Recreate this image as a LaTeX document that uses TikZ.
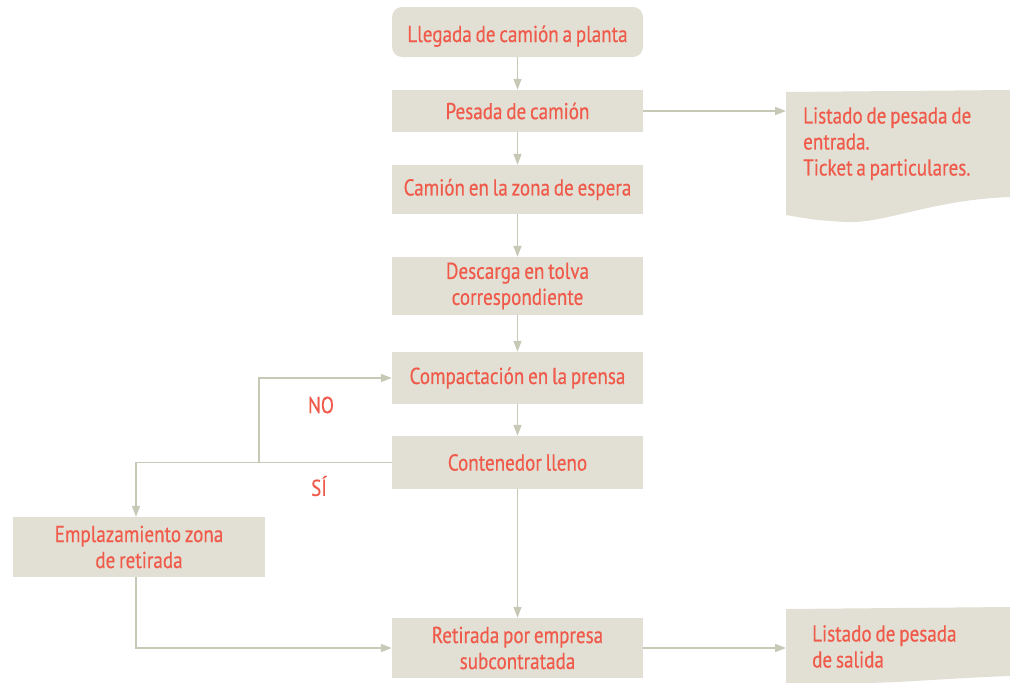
\documentclass[tikz,border=0pt]{standalone}
\usepackage{fontspec}
\setmainfont[FakeStretch=0.83,WordSpace=0.75,FakeBold=0.4]{PT Sans}
\usetikzlibrary{arrows.meta}
\definecolor{boxfill}{RGB}{226,224,212}
\definecolor{txt}{RGB}{240,90,74}
\definecolor{ln}{RGB}{200,200,182}
\begin{document}
\fontsize{23}{26}\selectfont
\begin{tikzpicture}[x=1pt,y=-1pt,
  box/.style={fill=boxfill, draw=none, minimum width=251pt, align=center, inner sep=0pt, text=txt, font=\fontsize{23}{26}\selectfont},
  doctext/.style={anchor=north west, align=left, inner sep=0pt, text=txt, font=\fontsize{23}{26}\selectfont},
  lbl/.style={inner sep=0pt, text=txt, font=\fontsize{23}{26}\selectfont},
  conn/.style={draw=ln, line width=1.6pt, -{Triangle[length=11pt,width=8pt]}}]
\useasboundingbox (0,0) rectangle (1010,683);
% documents
\fill[boxfill] (786,92) -- (1010,90) -- (1010,197) .. controls (930,200) and (885,224) .. (845,222) .. controls (815,220) .. (786,215) -- cycle;
\fill[boxfill] (786,609) -- (1010,607) -- (1010,676) .. controls (950,678) and (900,683) .. (860,683) -- (786,683) -- cycle;
\node[doctext] (d1) at (803,107) {Listado de pesada de\\entrada.\\Ticket a particulares.};
\node[doctext] (d2) at (812,625) {Listado de pesada\\de salida};
\coordinate (d1in) at (786,111);
\coordinate (d2in) at (786,648);
% boxes
\node[box, minimum height=50pt, rounded corners=10pt, text height=25pt, text depth=5pt] (n1) at (517.5,32) {Llegada de camión a planta};
\node[box, minimum height=42pt] (n2) at (517.5,111) {Pesada de camión};
\node[box, minimum height=49pt] (n3) at (517.5,189.5) {Camión en la zona de espera};
\node[box, minimum height=58pt] (n4) at (517.5,286) {Descarga en tolva\\correspondiente};
\node[box, minimum height=52pt] (n5) at (517.5,378) {Compactación en la prensa};
\node[box, minimum height=53pt] (n6) at (517.5,462.5) {Contenedor lleno};
\node[box, minimum width=252pt, minimum height=60pt] (n7) at (139,547) {Emplazamiento zona\\de retirada};
\node[box, minimum height=60pt] (n8) at (517.5,648) {Retirada por empresa\\subcontratada};
\node[lbl] (no) at (321,405) {NO};
\node[lbl] (si) at (319,486) {SÍ};
\coordinate (split) at (259,462.5);
% connectors
\draw[conn] (n1.south) -- (n2.north);
\draw[conn] (n2.south) -- (n3.north);
\draw[conn] (n3.south) -- (n4.north);
\draw[conn] (n4.south) -- (n5.north);
\draw[conn] (n5.south) -- (n6.north);
\draw[conn] (n6.south) -- (n8.north);
\draw[conn] (n2.east) -- (d1in);
\draw[conn] (n8.east) -- (d2in);
\draw[conn] (n6.west) -- (136,462.5) -- (n7.north -| 136,0);
\draw[conn] (split) |- (n5.west);
\draw[conn] (n7.south -| 136,0) -- (136,648) -- (n8.west);
\end{tikzpicture}
\end{document}
